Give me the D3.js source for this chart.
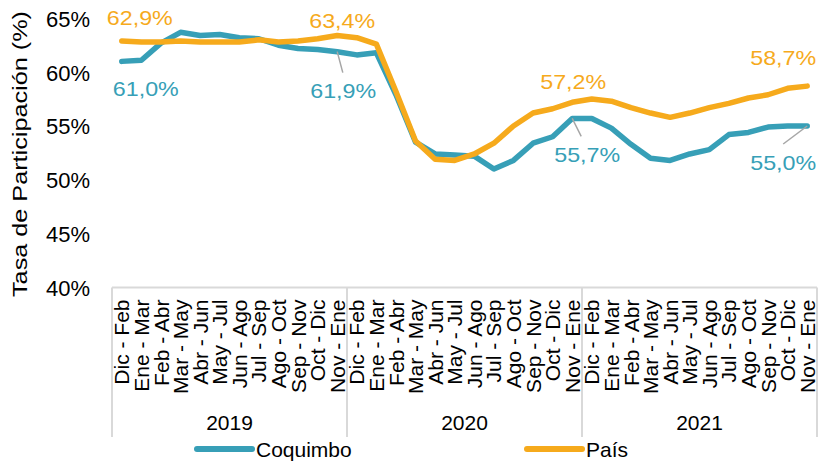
<!DOCTYPE html>
<html>
<head>
<meta charset="utf-8">
<script src="https://cdn.jsdelivr.net/npm/d3@7"></script>
<style>
  body { margin: 0; background: #fff; }
  svg { display: block; font-family: 'Liberation Sans', Arial, sans-serif; }
</style>
</head>
<body>
<div id="vis"></div>
<script>
// chart data
const months = ['Dic - Feb', 'Ene - Mar', 'Feb - Abr', 'Mar - May', 'Abr - Jun', 'May - Jul',
  'Jun - Ago', 'Jul - Sep', 'Ago - Oct', 'Sep - Nov', 'Oct - Dic', 'Nov - Ene'];
const years = ['2019', '2020', '2021'];
const yTicks = [40, 45, 50, 55, 60, 65];

const coquimbo = [61.0, 61.1, 62.7, 63.7, 63.4, 63.5, 63.2, 63.1, 62.5, 62.2, 62.1, 61.9,
  61.6, 61.8, 57.9, 53.5, 52.4, 52.3, 52.2, 51.0, 51.8, 53.4, 54.0, 55.7,
  55.7, 54.8, 53.3, 52.0, 51.8, 52.4, 52.8, 54.2, 54.4, 54.9, 55.0, 55.0];
const pais = [62.9, 62.8, 62.8, 62.9, 62.8, 62.8, 62.8, 63.0, 62.8, 62.9, 63.1, 63.4,
  63.2, 62.6, 58.2, 53.6, 51.9, 51.8, 52.4, 53.4, 55.0, 56.2, 56.6, 57.2,
  57.5, 57.3, 56.7, 56.2, 55.8, 56.2, 56.7, 57.1, 57.6, 57.9, 58.5, 58.7];

// which points get a value label
const labelIdx = [0, 11, 23, 35];

const teal = '#379fb7',
  orange = '#f6aa1c',
  grid = '#d9d9d9';

let width = 829,
  height = 462,
  plot = { left: 112, right: 817, top: 18.3, bottom: 287.5, boxBottom: 437 };

let svg = d3
  .select('#vis')
  .append('svg')
  .attr('width', width)
  .attr('height', height)
  .style('background-color', '#fff');

const idx = d3.range(months.length * years.length);

const xScale = d3.scaleBand().domain(idx).range([plot.left, plot.right]);
const xc = (i) => xScale(i) + xScale.bandwidth() / 2;

const yScale = d3.scaleLinear().domain([40, 65]).range([plot.bottom, plot.top]);

// y axis (labels only)
const yAxis = svg
  .append('g')
  .attr('transform', `translate(${plot.left - 22}, 0)`)
  .call(d3.axisLeft(yScale).tickValues(yTicks).tickSize(0).tickFormat((d) => d + '%'));
yAxis.select('.domain').remove();
yAxis
  .selectAll('text')
  .attr('x', 0)
  .attr('dy', '0.36em')
  .style('font-size', '22px')
  .style('font-family', "'Liberation Sans', Arial, sans-serif")
  .attr('fill', '#000');

// y title
svg
  .append('text')
  .attr('transform', `translate(27, ${(10 + 298) / 2}) rotate(-90)`)
  .attr('text-anchor', 'middle')
  .attr('textLength', 286)
  .attr('lengthAdjust', 'spacingAndGlyphs')
  .style('font-size', '21px')
  .text('Tasa de Participación (%)');

// category axis box
const box = svg.append('g').attr('stroke', grid).attr('stroke-width', 2);
box
  .append('line')
  .attr('x1', plot.left)
  .attr('x2', plot.right)
  .attr('y1', yScale(40))
  .attr('y2', yScale(40));
const yearEdges = d3.range(years.length + 1).map((k) => (k < years.length ? xScale(k * 12) : plot.right));
box
  .selectAll('.sep')
  .data(yearEdges)
  .enter()
  .append('line')
  .attr('x1', (d) => d)
  .attr('x2', (d) => d)
  .attr('y1', yScale(40))
  .attr('y2', plot.boxBottom);

// month labels, rotated
const xAxis = svg
  .append('g')
  .attr('transform', `translate(0, ${yScale(40)})`)
  .call(d3.axisBottom(xScale).tickSize(0).tickFormat((i) => months[i % 12]));
xAxis.select('.domain').remove();
xAxis
  .selectAll('text')
  .attr('transform', 'rotate(-90)')
  .attr('x', -12)
  .attr('y', 0)
  .attr('dy', '0.36em')
  .attr('text-anchor', 'end')
  .style('font-size', '21px')
  .style('font-family', "'Liberation Sans', Arial, sans-serif")
  .attr('fill', '#000');

// year labels
svg
  .selectAll('.year')
  .data(years)
  .enter()
  .append('text')
  .attr('x', (d, k) => (yearEdges[k] + yearEdges[k + 1]) / 2)
  .attr('y', 430)
  .attr('text-anchor', 'middle')
  .style('font-size', '21px')
  .text((d) => d);

// lines
const line = (vals) =>
  d3
    .line()
    .x((d, i) => xc(i))
    .y((d) => yScale(d))(vals);

const series = [
  { name: 'Coquimbo', values: coquimbo, color: teal },
  { name: 'País', values: pais, color: orange },
];

// draw País last so it sits on top, like the original
svg
  .append('path')
  .attr('d', line(coquimbo))
  .attr('fill', 'none')
  .attr('stroke', teal)
  .attr('stroke-width', 5.5)
  .attr('stroke-linejoin', 'round')
  .attr('stroke-linecap', 'round');
svg
  .append('path')
  .attr('d', line(pais))
  .attr('fill', 'none')
  .attr('stroke', orange)
  .attr('stroke-width', 5.5)
  .attr('stroke-linejoin', 'round')
  .attr('stroke-linecap', 'round');

// value labels: offsets from the point
const fmt = (v) => v.toFixed(1).replace('.', ',') + '%';
const paisOff = [[18, -23], [5, -15], [1, -21], [-24, -29]];
const coqOff = [[24, 27], [6, 39], [15, 36], [-24, 36]];
const leader = [false, true, true, true];

labelIdx.forEach((i, k) => {
  svg
    .append('text')
    .attr('x', xc(i) + paisOff[k][0])
    .attr('y', yScale(pais[i]) + paisOff[k][1])
    .attr('dy', '0.36em')
    .attr('text-anchor', 'middle')
    .attr('fill', orange)
    .style('font-size', '21px')
    .attr('textLength', 66)
    .attr('lengthAdjust', 'spacingAndGlyphs')
    .text(fmt(pais[i]));

  const lx = xc(i) + coqOff[k][0],
    ly = yScale(coquimbo[i]) + coqOff[k][1];
  if (leader[k]) {
    svg
      .append('line')
      .attr('x1', xc(i))
      .attr('y1', yScale(coquimbo[i]))
      .attr('x2', k == 3 ? lx : xc(i) + (lx - xc(i)) * 0.6 + (k == 1 ? 2 : 0))
      .attr('y2', ly - 18)
      .attr('stroke', '#a6a6a6')
      .attr('stroke-width', 1.5);
  }
  svg
    .append('text')
    .attr('x', lx)
    .attr('y', ly)
    .attr('dy', '0.36em')
    .attr('text-anchor', 'middle')
    .attr('fill', teal)
    .style('font-size', '21px')
    .attr('textLength', 66)
    .attr('lengthAdjust', 'spacingAndGlyphs')
    .text(fmt(coquimbo[i]));
});

// legend
const legendX = [197, 527];
series.forEach((s, k) => {
  svg
    .append('line')
    .attr('x1', legendX[k])
    .attr('x2', legendX[k] + 55)
    .attr('y1', 449)
    .attr('y2', 449)
    .attr('stroke', s.color)
    .attr('stroke-width', 6)
    .attr('stroke-linecap', 'round');
  svg
    .append('text')
    .attr('x', legendX[k] + 59)
    .attr('y', 457)
    .style('font-size', '21px')
    .text(s.name);
});
</script>
</body>
</html>
